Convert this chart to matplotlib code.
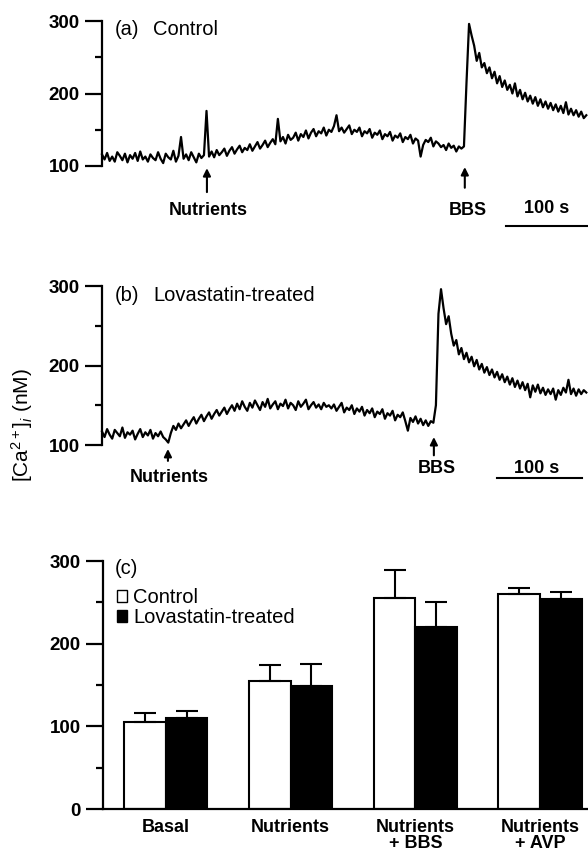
import numpy as np
import matplotlib
matplotlib.use("Agg")
import matplotlib.pyplot as plt
from matplotlib.patches import Patch

plt.rcParams['font.family'] = ['Liberation Sans', 'DejaVu Sans']
plt.rcParams['mathtext.fontset'] = 'custom'
plt.rcParams['mathtext.rm'] = 'Liberation Sans'
plt.rcParams['mathtext.it'] = 'Liberation Sans:italic'

# ---------------- data ----------------
sample_interval_s = 3  # seconds between trace samples

trace_control = [
    116, 109, 118, 107, 113, 106, 119, 114, 108, 117, 105, 115, 110, 118, 107, 120, 109, 113, 106, 116,
    111, 108, 119, 110, 104, 117, 112, 109, 121, 106, 114, 140, 110, 116, 108, 119, 112, 105, 117, 111,
    115,
    176,
    113, 120, 112, 122, 115, 119, 124, 114, 121, 126, 117, 123, 128, 119, 125, 122, 130, 121, 127, 133,
    124, 129, 135, 126, 132,
    137, 130, 165, 134, 140, 131, 143, 136, 139, 146, 135, 144, 140, 149, 138, 146, 151, 141, 148, 145,
    153, 142, 150, 147, 155, 170, 148,
    153, 146, 151, 156, 144, 150, 147, 153, 141, 148, 145, 151, 139, 146, 143, 149, 137, 144, 141, 147,
    135, 142, 139, 145, 133, 140, 137, 143, 131, 138, 135, 113, 129, 136, 133, 139, 127, 134, 131, 126,
    129, 122, 131, 125, 128, 120, 127,
    124, 127, 215, 296,
    280, 266, 245, 256, 236, 242, 228, 236, 221, 230, 214, 224, 209, 218, 205, 212, 200, 214, 196, 205,
    192, 201, 189, 197, 186, 195, 183, 192, 181, 189, 179, 187, 177, 185, 175, 183, 173, 188, 171, 179,
    170, 177, 168, 175, 166, 170]

trace_lova = [
    117, 110, 120, 113, 108, 119, 115, 111, 122, 109, 116, 113, 118, 107, 114, 120, 110, 116, 112, 119,
    108, 115, 111, 117, 110,
    107, 103,
    115, 124, 119, 127, 121, 126, 131, 124, 130, 135, 127, 133, 138, 130, 136, 141, 133, 139, 144, 137,
    142, 147, 139, 145, 150, 143,
    152, 145, 155, 148, 143, 153, 147, 156, 150, 144, 154, 148, 158, 146, 151, 155, 145, 152, 149, 157,
    146, 153, 150, 144, 155, 148, 152, 157, 145, 150, 154, 147, 151, 145, 153, 148, 150, 146,
    151, 143, 148, 153, 141, 147, 144, 150, 139, 146, 142, 148, 137, 144, 140, 146, 135, 142, 139, 145,
    133, 140, 137, 143, 131, 138, 135, 141, 130, 118, 134, 129, 136, 127, 133, 125, 131, 124, 130,
    128, 150, 265, 296,
    272, 252, 262, 240, 225, 232, 214, 222, 208, 216, 204, 211, 199, 207, 195, 202, 191, 198, 188, 195,
    185, 192, 182, 189, 179, 186, 176, 184, 173, 181, 171, 179, 169, 177, 160, 175, 167, 176, 165, 172,
    163, 170, 164, 171, 157, 169, 163, 172, 166, 182, 164, 171, 162, 170, 164, 169, 166]

nutrients_time_control = 123.5
bbs_time_control = 427
nutrients_time_lova = 77.6
bbs_time_lova = 390.6
scale_bar_s = 100

categories = ['Basal', 'Nutrients', 'Nutrients\n+ BBS', 'Nutrients\n+ AVP']
control_mean = [105, 155, 255, 260]
control_sem = [11, 19, 34, 7]
lova_mean = [110, 149, 220, 254]
lova_sem = [9, 26, 31, 8]

# ---------------- figure ----------------
W, H = 588, 852
fig = plt.figure(figsize=(W / 100, H / 100), dpi=100)


def frac(x0, y0, x1, y1):
    return [x0 / W, 1 - y1 / H, (x1 - x0) / W, (y1 - y0) / H]


TICK_FS = 13.5
LAB_FS = 13
TXT_FS = 14.5


def style_left_axis(ax, ymin, ymax, major, minor):
    for s in ['top', 'right', 'bottom']:
        ax.spines[s].set_visible(False)
    ax.spines['left'].set_linewidth(1.6)
    ax.set_ylim(ymin, ymax)
    ax.set_yticks(major)
    ax.set_yticks(minor, minor=True)
    ax.tick_params(axis='y', which='major', length=12, width=1.6, pad=4,
                   labelsize=TICK_FS)
    ax.tick_params(axis='y', which='minor', length=5, width=1.6)
    for lab in ax.get_yticklabels():
        lab.set_fontweight('bold')
    ax.patch.set_alpha(0)


def trace_panel(rect, trace, t_nut, t_bbs, letter, title,
                nut_arrow, nut_label_y, bbs_arrow, bbs_label_y,
                bar_t0, bar_y, bar_label_t, bar_label_y):
    ax = fig.add_axes(rect)
    t = np.arange(len(trace)) * sample_interval_s
    ax.plot(t, trace, color='black', lw=1.6, clip_on=False)
    ax.set_xlim(0, 572)
    style_left_axis(ax, 100, 300, [100, 200, 300], [150, 250])
    ax.set_xticks([])
    ax.text(15, 288, letter, fontsize=TXT_FS, va='center', ha='left')
    ax.text(60, 288, title, fontsize=TXT_FS, va='center', ha='left')
    ap = dict(arrowstyle='-|>', lw=1.5, color='black', mutation_scale=11,
              shrinkA=0, shrinkB=0)
    ax.annotate('', xy=(t_nut, nut_arrow[0]), xytext=(t_nut, nut_arrow[1]),
                arrowprops=ap, annotation_clip=False)
    ax.annotate('', xy=(t_bbs, bbs_arrow[0]), xytext=(t_bbs, bbs_arrow[1]),
                arrowprops=ap, annotation_clip=False)
    ax.text(t_nut + 2, nut_label_y, 'Nutrients', fontsize=LAB_FS, fontweight='bold',
            ha='center', va='center')
    ax.text(t_bbs + 3, bbs_label_y, 'BBS', fontsize=LAB_FS, fontweight='bold',
            ha='center', va='center')
    ax.plot([bar_t0, bar_t0 + scale_bar_s], [bar_y, bar_y], color='black', lw=1.5,
            clip_on=False)
    ax.text(bar_label_t, bar_label_y, f'{scale_bar_s} s', fontsize=LAB_FS,
            fontweight='bold', ha='center', va='center')
    return ax


ax_a = trace_panel(frac(102, 21, 588, 166), trace_control,
                   nutrients_time_control, bbs_time_control, '(a)', 'Control',
                   (97, 64), 39, (98.5, 70), 39,
                   475, 17, 523.5, 40.7)

ax_b = trace_panel(frac(102, 286, 588, 445), trace_lova,
                   nutrients_time_lova, bbs_time_lova, '(b)', 'Lovastatin-treated',
                   (95, 80), 58.5, (110, 87), 70,
                   464.5, 58.5, 512, 70.5)

fig.text(22 / W, 1 - 425 / H, r'[Ca$^{2+}$]$_{i}$ (nM)', rotation=90,
         ha='center', va='center', fontsize=15)

# ---------------- bar panel ----------------
ax_c = fig.add_axes(frac(103, 561, 614.8, 809))
x = np.arange(len(categories))
w = 0.333
bc = ax_c.bar(x - w / 2, control_mean, w, color='white', edgecolor='black', lw=1.5)
bl = ax_c.bar(x + w / 2, lova_mean, w, color='black', edgecolor='black', lw=1.5)
ax_c.errorbar(x - w / 2, control_mean, yerr=[[0] * len(x), control_sem], fmt='none',
              ecolor='black', elinewidth=1.5, capsize=8, capthick=1.5)
ax_c.errorbar(x + w / 2, lova_mean, yerr=[[0] * len(x), lova_sem], fmt='none',
              ecolor='black', elinewidth=1.5, capsize=8, capthick=1.5)
ax_c.set_xlim(-0.505, 3.6)
style_left_axis(ax_c, 0, 300, [0, 100, 200, 300], [50, 150, 250])
ax_c.spines['bottom'].set_visible(True)
ax_c.spines['bottom'].set_linewidth(1.6)
ax_c.set_xticks(x)
ax_c.set_xticklabels(categories, fontsize=LAB_FS, fontweight='bold', linespacing=0.95)
ax_c.tick_params(axis='x', length=0, pad=7)
ax_c.text(-0.41, 291, '(c)', fontsize=TXT_FS, va='center', ha='left')
leg = ax_c.legend([Patch(facecolor='white', edgecolor='black', lw=1.0),
                   Patch(facecolor='black', edgecolor='black', lw=1.0)],
                  ['Control', 'Lovastatin-treated'],
                  loc='upper left', bbox_to_anchor=(0.028, 0.89), frameon=False,
                  borderpad=0, borderaxespad=0, handlelength=0.5, handleheight=0.5,
                  handletextpad=0.3, labelspacing=0.05, fontsize=TXT_FS)

fig.savefig('out.png', dpi=100)
